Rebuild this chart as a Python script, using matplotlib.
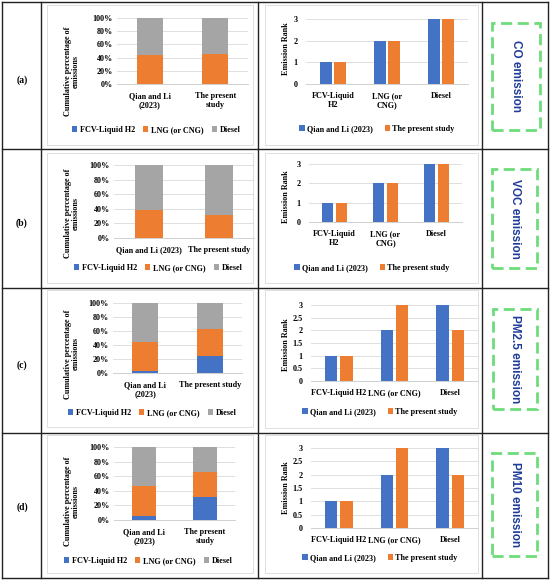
import matplotlib
matplotlib.use('Agg')
import matplotlib.pyplot as plt
from matplotlib.patches import Rectangle
from matplotlib.lines import Line2D
from matplotlib.ticker import PercentFormatter

W, H = 550, 582
BLUE, ORANGE, GRAY = '#4472C4', '#ED7D31', '#A5A5A5'
SERIF = 'Liberation Serif'
FS = 5.9

studies = ['Qian and Li (2023)', 'The present study']
fuels = ['FCV-Liquid H2', 'LNG (or CNG)', 'Diesel']
panels = ['(a)', '(b)', '(c)', '(d)']
pollutants = ['CO emission', 'VOC emission', 'PM2.5 emission', 'PM10 emission']

# cumulative percentage of emissions, [Qian and Li, present study]
share_fcv = [[0, 0], [0, 0], [3, 25], [6, 32]]
share_lng = [[44, 45], [39, 32], [41, 38], [40, 34]]
share_diesel = [[56, 55], [61, 68], [56, 37], [54, 34]]

# emission rank, [FCV, LNG, Diesel]
rank_qian = [[1, 2, 3], [1, 2, 3], [1, 2, 3], [1, 2, 3]]
rank_present = [[1, 2, 3], [1, 2, 3], [1, 3, 2], [1, 3, 2]]

study_ticks = [['Qian and Li\n(2023)', 'The present\nstudy'],
               ['Qian and Li (2023)', 'The present study'],
               ['Qian and Li\n(2023)', 'The present study'],
               ['Qian and Li\n(2023)', 'The present\nstudy']]
fuel_ticks = [['FCV-Liquid\nH2', 'LNG (or\nCNG)', 'Diesel'],
              ['FCV-Liquid\nH2', 'LNG (or\nCNG)', 'Diesel'],
              fuels, fuels]
rank_top = [3, 3, 3, 3]
rank_step = [1, 1, 0.5, 0.5]

# layout in pixels (x0, y0, x1, y1) measured from top-left
left_ax = [(117, 18, 248, 84), (114, 165, 254, 238), (113, 303, 242, 373), (114, 447, 235, 520)]
right_ax = [(306, 19, 468, 84), (309, 164, 462, 222), (311, 305, 478, 381), (311, 448, 478, 528)]
left_box = [(47, 5, 253, 145), (47, 153, 253, 283), (47, 290, 253, 427), (47, 435, 253, 573)]
right_box = [(265, 5, 478, 145), (265, 153, 478, 283), (265, 290, 478, 428), (265, 435, 478, 573)]
left_leg = [(156, 130), (158, 268), (152, 413), (148, 561)]
right_leg = [(377, 129), (372, 268), (380, 412), (380, 558)]
left_ylab = [71, 213, 354, 501]
right_ylab = [49, 197, 345, 488]
panel_y = [80, 223, 365, 507]
dash_box = [(492, 23, 540, 130), (492, 169, 537, 268), (493, 309, 537, 409), (492, 453, 537, 556)]


def rect(x0, y0, x1, y1):
    return [x0 / W, 1 - y1 / H, (x1 - x0) / W, (y1 - y0) / H]


def fx(x):
    return x / W


def fy(y):
    return 1 - y / H


def style(ax):
    for s in ['left', 'right', 'top']:
        ax.spines[s].set_visible(False)
    ax.spines['bottom'].set_color('#D0D0D0')
    ax.spines['bottom'].set_linewidth(0.7)
    ax.yaxis.grid(True, color='#D9D9D9', lw=0.6)
    ax.set_axisbelow(True)
    ax.tick_params(length=0, labelsize=FS, pad=3)
    for t in ax.get_xticklabels() + ax.get_yticklabels():
        t.set_fontfamily(SERIF)
        t.set_fontweight('bold')


fig = plt.figure(figsize=(W / 100, H / 100), dpi=100)

# chart area borders
for b in left_box + right_box:
    x0, y0, x1, y1 = b
    fig.patches.append(Rectangle((fx(x0), fy(y1)), (x1 - x0) / W, (y1 - y0) / H,
                                 transform=fig.transFigure, fill=False, ec='#D9D9D9', lw=0.6))

for i in range(4):
    # stacked percentage chart
    ax = fig.add_axes(rect(*left_ax[i]))
    xs = [0, 1]
    ax.bar(xs, share_fcv[i], 0.4, color=BLUE, label=fuels[0])
    ax.bar(xs, share_lng[i], 0.4, bottom=share_fcv[i], color=ORANGE, label=fuels[1])
    base = [a + b for a, b in zip(share_fcv[i], share_lng[i])]
    ax.bar(xs, share_diesel[i], 0.4, bottom=base, color=GRAY, label=fuels[2])
    ax.set_xlim(-0.5, 1.5)
    ax.set_ylim(0, 100)
    ax.set_yticks(range(0, 101, 20))
    ax.yaxis.set_major_formatter(PercentFormatter(decimals=0))
    ax.set_xticks(xs)
    ax.set_xticklabels(study_ticks[i], linespacing=1.1)
    style(ax)
    ax.tick_params(axis='x', pad=6)
    ax.legend(loc='center', bbox_to_anchor=(fx(left_leg[i][0]), fy(left_leg[i][1])),
              bbox_transform=fig.transFigure, ncol=3, frameon=False,
              prop={'family': SERIF, 'weight': 'bold', 'size': FS},
              handlelength=0.65, handleheight=0.65, handletextpad=0.3,
              columnspacing=1.0, borderpad=0)
    fig.text(fx(72), fy(left_ylab[i]), 'Cumulative percentage of\nemissions', rotation=90,
             ha='center', va='center', fontsize=FS, fontfamily=SERIF, fontweight='bold',
             linespacing=1.0)

    # rank chart
    ax = fig.add_axes(rect(*right_ax[i]))
    xs = [0, 1, 2]
    ax.bar([x - 0.137 for x in xs], rank_qian[i], 0.225, color=BLUE, label=studies[0])
    ax.bar([x + 0.137 for x in xs], rank_present[i], 0.225, color=ORANGE, label=studies[1])
    ax.set_xlim(-0.5, 2.5)
    ax.set_ylim(0, rank_top[i])
    step = rank_step[i]
    ticks = [k * step for k in range(int(rank_top[i] / step) + 1)]
    ax.set_yticks(ticks)
    ax.set_yticklabels(['%g' % t for t in ticks])
    ax.set_xticks(xs)
    ax.set_xticklabels(fuel_ticks[i], linespacing=1.1)
    style(ax)
    ax.tick_params(axis='x', pad=6)
    ax.tick_params(axis='y', pad=6)
    ax.legend(loc='center', bbox_to_anchor=(fx(right_leg[i][0]), fy(right_leg[i][1])),
              bbox_transform=fig.transFigure, ncol=2, frameon=False,
              prop={'family': SERIF, 'weight': 'bold', 'size': FS},
              handlelength=0.65, handleheight=0.65, handletextpad=0.3,
              columnspacing=1.4, borderpad=0)
    fig.text(fx(286), fy(right_ylab[i]), 'Emission Rank', rotation=90,
             ha='center', va='center', fontsize=FS, fontfamily=SERIF, fontweight='bold')

    # row label and pollutant box
    fig.text(fx(22), fy(panel_y[i]), panels[i], ha='center', va='center',
             fontsize=7, fontfamily=SERIF, fontweight='bold')
    x0, y0, x1, y1 = dash_box[i]
    fig.patches.append(Rectangle((fx(x0), fy(y1)), (x1 - x0) / W, (y1 - y0) / H,
                                 transform=fig.transFigure, fill=False, ec='#6EDC7A',
                                 lw=2.0, ls=(0, (4, 2))))
    fig.text(fx((x0 + x1) / 2), fy((y0 + y1) / 2), pollutants[i], rotation=-90,
             ha='center', va='center', fontsize=8.5, color='#1F3C99',
             fontfamily='Liberation Sans', fontweight='bold')

# table grid
for x in [1.5, 40.5, 257.5, 482, 547.5]:
    fig.lines.append(Line2D([fx(x), fx(x)], [fy(1.5), fy(578)], transform=fig.transFigure,
                            color='#222222', lw=1.0))
for y in [1.5, 149, 288, 433, 578]:
    fig.lines.append(Line2D([fx(1.5), fx(547.5)], [fy(y), fy(y)], transform=fig.transFigure,
                            color='#222222', lw=1.0))

fig.savefig('out.png', dpi=100, facecolor='white')
